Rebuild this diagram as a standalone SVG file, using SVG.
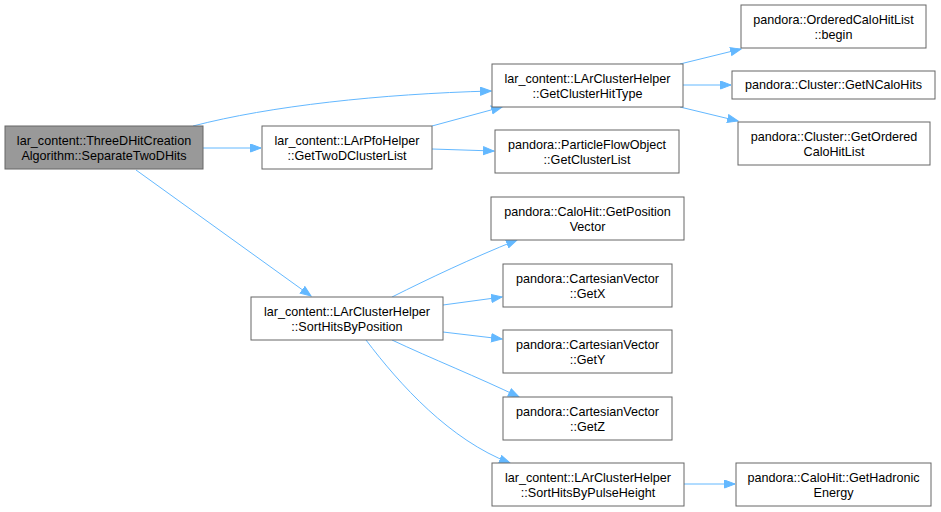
<svg xmlns="http://www.w3.org/2000/svg" width="941" height="512" viewBox="0 0 941 512">
<style>
.n rect{fill:#ffffff;stroke:#666666;stroke-width:1}
.n.root rect{fill:#999999}
.n text{font-family:"Liberation Sans",Arial,sans-serif;font-size:12.6px;fill:#000000;text-anchor:middle}
.e path{fill:none;stroke:#63b8ff;stroke-width:1}
</style>
<defs>
<marker id="ah" markerUnits="userSpaceOnUse" markerWidth="12" markerHeight="10" refX="11" refY="4.5" orient="auto">
<path d="M0.5,0.5 L11,4.5 L0.5,8.5 z" fill="#63b8ff" stroke="#63b8ff"/>
</marker>
</defs>
<rect width="941" height="512" fill="#ffffff"/>
<g id="edges" class="e">
<path d="M193,126 C270,106 380,94 491,91" marker-end="url(#ah)"/>
<path d="M203,148 L261,148" marker-end="url(#ah)"/>
<path d="M136,170 L311,296" marker-end="url(#ah)"/>
<path d="M432,126 L502,107" marker-end="url(#ah)"/>
<path d="M432,149 L494,151" marker-end="url(#ah)"/>
<path d="M680,64 L741,49" marker-end="url(#ah)"/>
<path d="M683,85 L731,85" marker-end="url(#ah)"/>
<path d="M680,107 L738,121" marker-end="url(#ah)"/>
<path d="M392,297 C430,278 470,259 517,240" marker-end="url(#ah)"/>
<path d="M443,305 L502,297" marker-end="url(#ah)"/>
<path d="M443,332 L502,339" marker-end="url(#ah)"/>
<path d="M392,340 C430,358 480,378 519,397" marker-end="url(#ah)"/>
<path d="M366,340 C400,385 450,440 510,463" marker-end="url(#ah)"/>
<path d="M684,484 L735,484" marker-end="url(#ah)"/>
</g>
<g id="root" class="n root"><rect x="5" y="126" width="198" height="43"/><text x="104" y="145">lar_content::ThreeDHitCreation</text><text x="104" y="160">Algorithm::SeparateTwoDHits</text></g>
<g id="pfo" class="n"><rect x="262" y="126" width="170" height="43"/><text x="347" y="145">lar_content::LArPfoHelper</text><text x="347" y="160">::GetTwoDClusterList</text></g>
<g id="ghtype" class="n"><rect x="492" y="64" width="191" height="43"/><text x="587.5" y="83">lar_content::LArClusterHelper</text><text x="587.5" y="98">::GetClusterHitType</text></g>
<g id="begin" class="n"><rect x="741" y="5" width="185" height="43"/><text x="833.5" y="24">pandora::OrderedCaloHitList</text><text x="833.5" y="39">::begin</text></g>
<g id="ncalo" class="n"><rect x="732" y="71" width="203" height="28"/><text x="833.5" y="89">pandora::Cluster::GetNCaloHits</text></g>
<g id="ordered" class="n"><rect x="738" y="122" width="192" height="43"/><text x="834" y="141">pandora::Cluster::GetOrdered</text><text x="834" y="156">CaloHitList</text></g>
<g id="pfocl" class="n"><rect x="495" y="130" width="184" height="43"/><text x="587" y="149">pandora::ParticleFlowObject</text><text x="587" y="164">::GetClusterList</text></g>
<g id="sortpos" class="n"><rect x="251" y="297" width="192" height="43"/><text x="347" y="316">lar_content::LArClusterHelper</text><text x="347" y="331">::SortHitsByPosition</text></g>
<g id="posvec" class="n"><rect x="491" y="197" width="193" height="43"/><text x="587.5" y="216">pandora::CaloHit::GetPosition</text><text x="587.5" y="231">Vector</text></g>
<g id="getx" class="n"><rect x="503" y="264" width="169" height="43"/><text x="587.5" y="283">pandora::CartesianVector</text><text x="587.5" y="298">::GetX</text></g>
<g id="gety" class="n"><rect x="503" y="330" width="169" height="43"/><text x="587.5" y="349">pandora::CartesianVector</text><text x="587.5" y="364">::GetY</text></g>
<g id="getz" class="n"><rect x="503" y="397" width="169" height="43"/><text x="587.5" y="416">pandora::CartesianVector</text><text x="587.5" y="431">::GetZ</text></g>
<g id="sortpulse" class="n"><rect x="492" y="463" width="192" height="43"/><text x="588" y="482">lar_content::LArClusterHelper</text><text x="588" y="497">::SortHitsByPulseHeight</text></g>
<g id="hadronic" class="n"><rect x="736" y="463" width="195" height="43"/><text x="833.5" y="482">pandora::CaloHit::GetHadronic</text><text x="833.5" y="497">Energy</text></g>
</svg>
